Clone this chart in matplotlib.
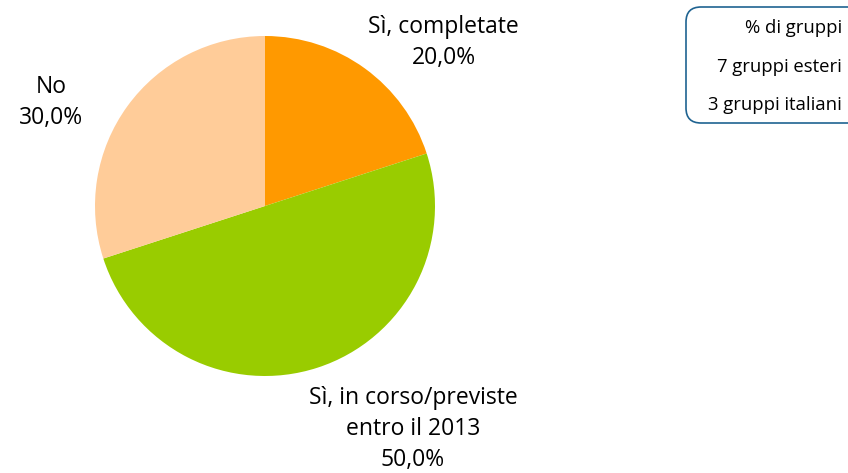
import matplotlib.pyplot as plt
from matplotlib.patches import FancyBboxPatch

labels = ["Sì, completate", "Sì, in corso/previste\nentro il 2013", "No"]
values = [20.0, 50.0, 30.0]
colors = ["#FF9900", "#99CC00", "#FFCC99"]
legend_lines = ["% di gruppi", "7 gruppi esteri", "3 gruppi italiani"]

plt.rcParams['font.family'] = ['Open Sans', 'DejaVu Sans']

fig = plt.figure(figsize=(8.48, 4.73), dpi=100)
W, H = 848, 473
cx, cy, r = 265, 206, 170
ax = fig.add_axes([(cx - r) / W, (H - cy - r) / H, 2 * r / W, 2 * r / H])
ax.pie(values, colors=colors, startangle=90, counterclock=False,
       wedgeprops=dict(linewidth=0))
ax.set_xlim(-1, 1)
ax.set_ylim(-1, 1)
ax.set_aspect('equal')
ax.axis('off')

def pct(v):
    return ("%.1f%%" % v).replace(".", ",")

# label positions in data units (pie radius = 1)
pos = [(1.05, 0.96), (0.87, -1.31), (-1.26, 0.61)]
for lab, v, (x, y) in zip(labels, values, pos):
    ax.text(x, y, lab + "\n" + pct(v), ha='center', va='center',
            fontsize=16.5, linespacing=1.38, color='black', clip_on=False)

# box at top right (inches)
box = FancyBboxPatch((6.86, (H - 123) / 100), 2.0, 1.16,
                     boxstyle="round,pad=0,rounding_size=0.15",
                     transform=fig.dpi_scale_trans, facecolor='white',
                     edgecolor='#1F6391', linewidth=1.2, clip_on=False)
fig.patches.append(box)
for i, t in enumerate(legend_lines):
    fig.text(842 / W, (H - 28 - i * 38.5) / H, t, ha='right', va='center', fontsize=13.3)

fig.savefig("out.png", dpi=100)
